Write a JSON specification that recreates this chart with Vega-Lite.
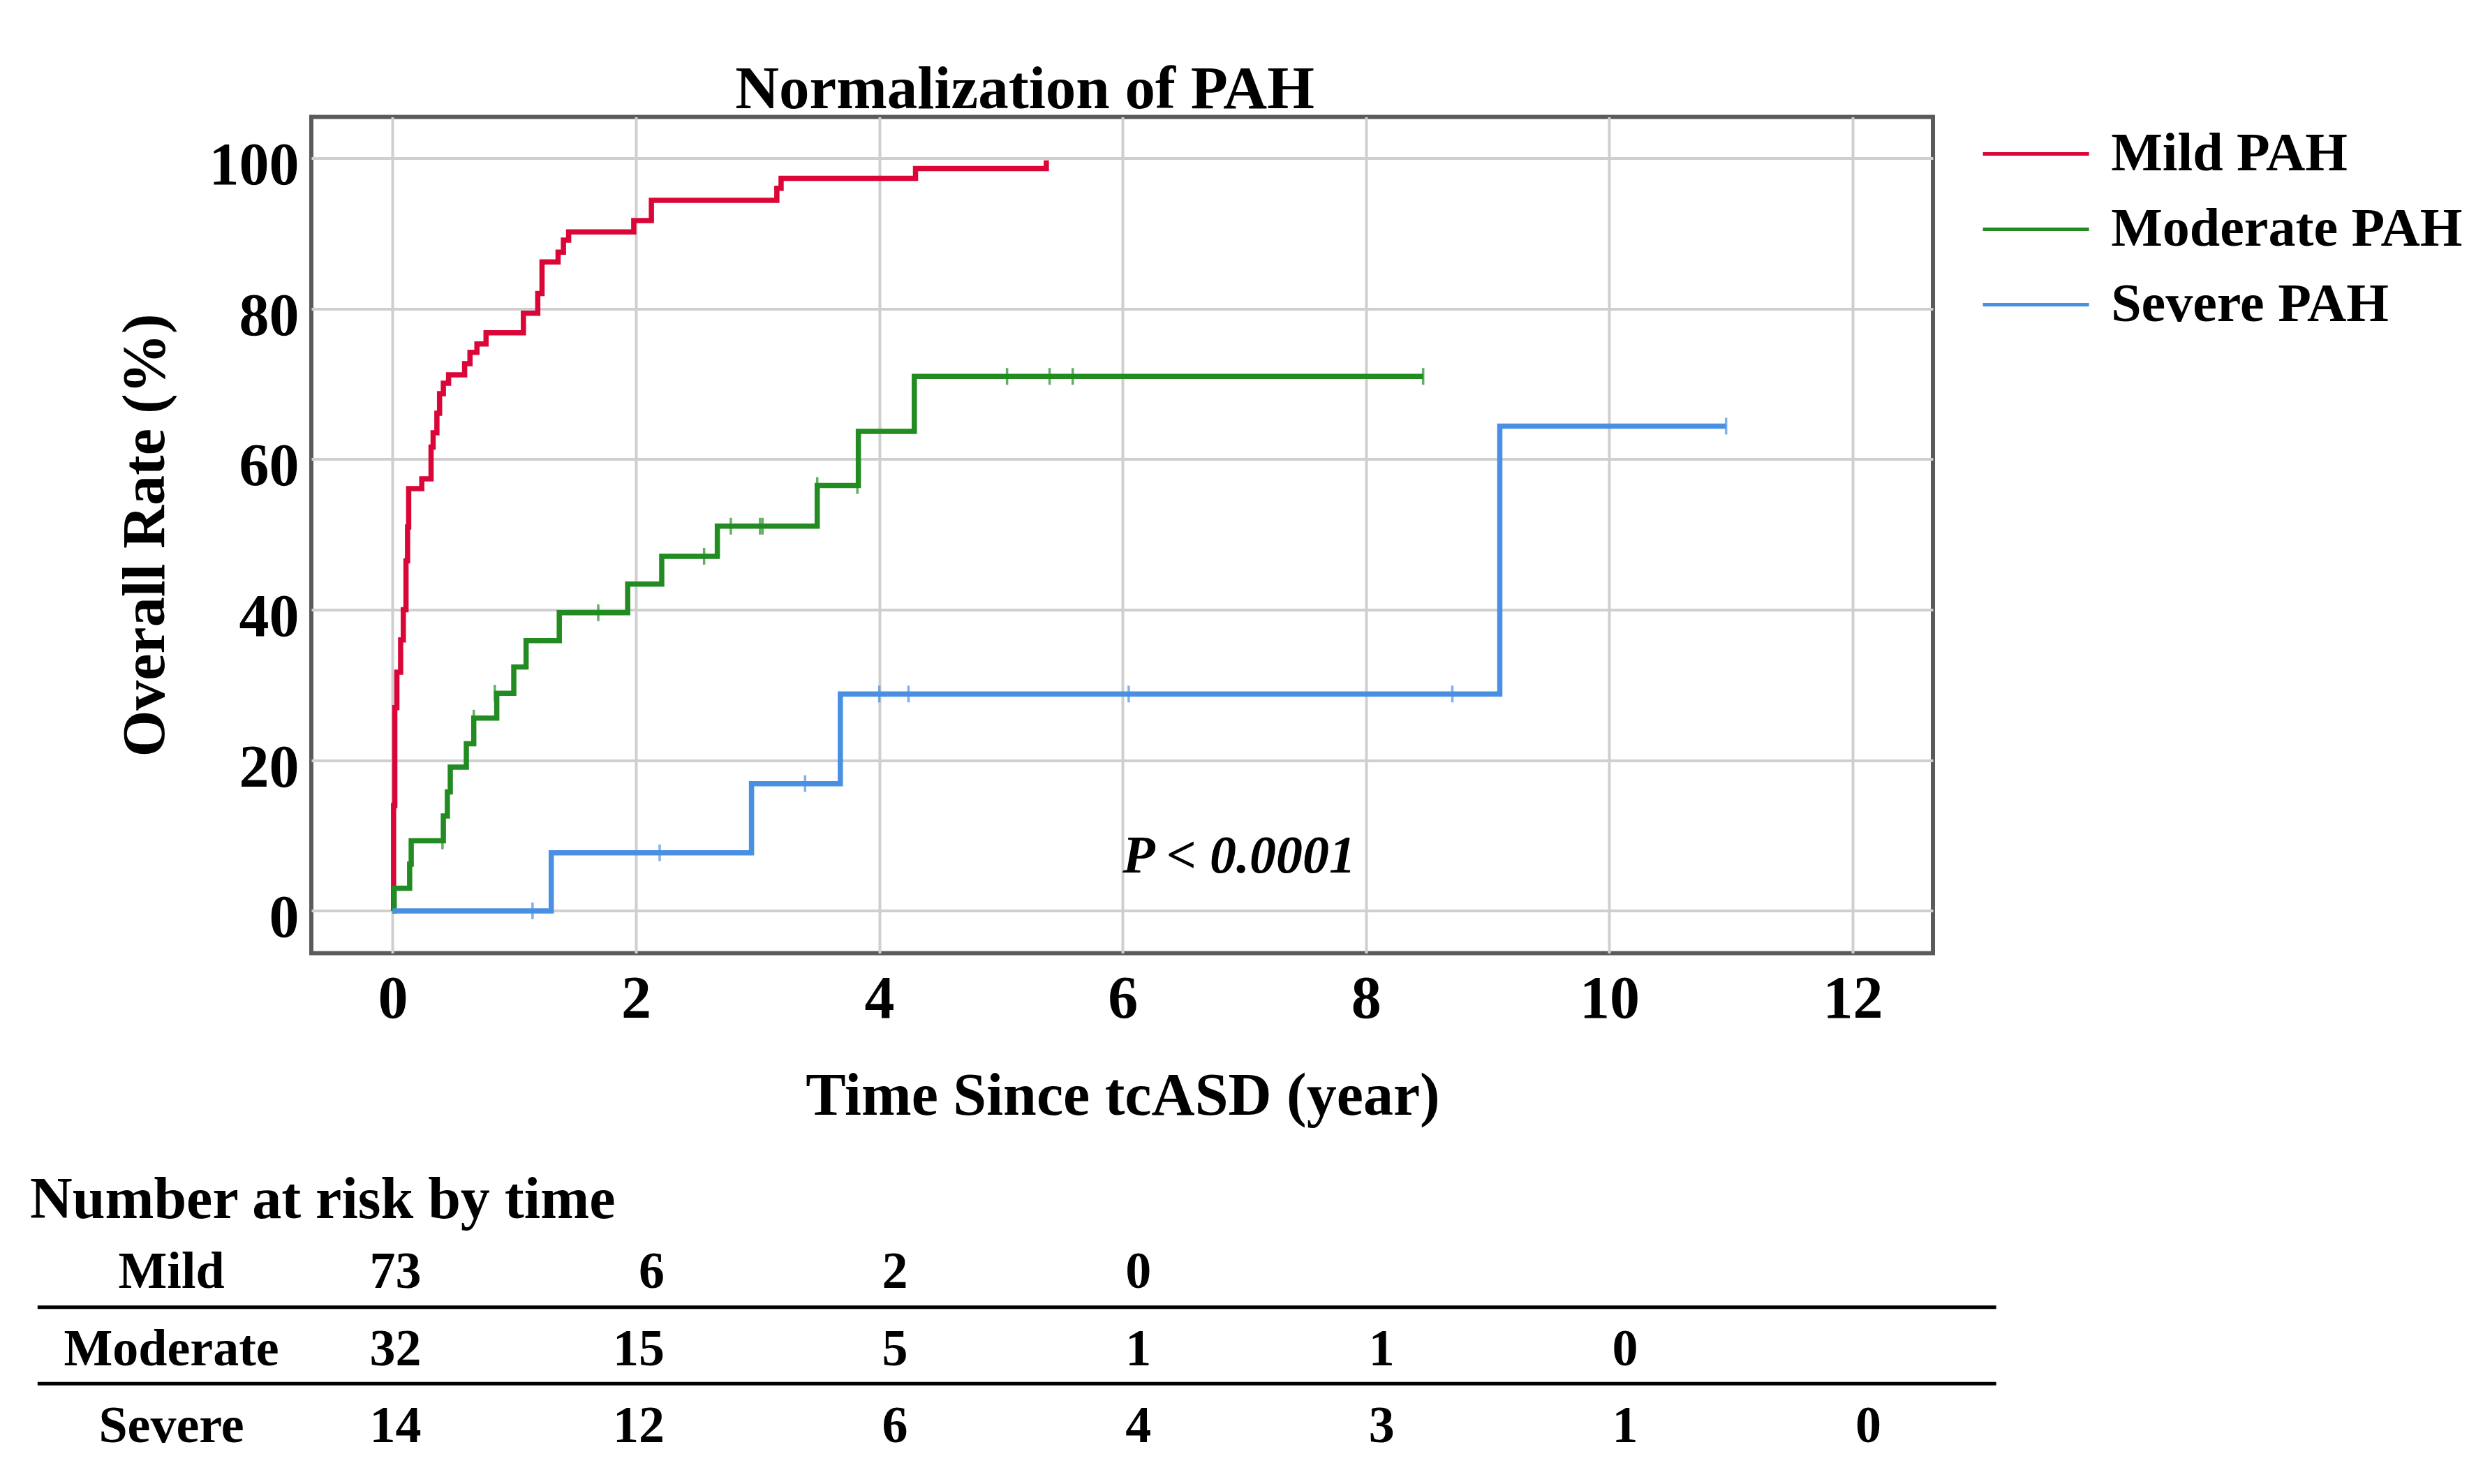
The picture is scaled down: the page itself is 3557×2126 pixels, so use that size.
{
  "$schema": "https://vega.github.io/schema/vega-lite/v6.json",
  "width": 2323,
  "height": 1198,
  "autosize": {"type": "none"},
  "padding": {"left": 446, "top": 167.5, "right": 788, "bottom": 760.5},
  "background": "white",
  "config": {
    "view": {"stroke": "#5A5A5A", "strokeWidth": 6},
    "font": "Liberation Serif"
  },
  "datasets": {
    "curves": [
      {"group": "Mild PAH", "t": 0, "rate": 0},
      {"group": "Mild PAH", "t": 0.008, "rate": 14},
      {"group": "Mild PAH", "t": 0.018, "rate": 27},
      {"group": "Mild PAH", "t": 0.035, "rate": 31.7},
      {"group": "Mild PAH", "t": 0.066, "rate": 36},
      {"group": "Mild PAH", "t": 0.088, "rate": 40},
      {"group": "Mild PAH", "t": 0.11, "rate": 46.5},
      {"group": "Mild PAH", "t": 0.123, "rate": 51},
      {"group": "Mild PAH", "t": 0.132, "rate": 56.1},
      {"group": "Mild PAH", "t": 0.24, "rate": 57.4},
      {"group": "Mild PAH", "t": 0.316, "rate": 61.6},
      {"group": "Mild PAH", "t": 0.333, "rate": 63.5},
      {"group": "Mild PAH", "t": 0.364, "rate": 66.1},
      {"group": "Mild PAH", "t": 0.386, "rate": 68.7},
      {"group": "Mild PAH", "t": 0.417, "rate": 70.1},
      {"group": "Mild PAH", "t": 0.46, "rate": 71.2},
      {"group": "Mild PAH", "t": 0.592, "rate": 72.7},
      {"group": "Mild PAH", "t": 0.636, "rate": 74.2},
      {"group": "Mild PAH", "t": 0.693, "rate": 75.3},
      {"group": "Mild PAH", "t": 0.768, "rate": 76.8},
      {"group": "Mild PAH", "t": 1.075, "rate": 79.4},
      {"group": "Mild PAH", "t": 1.193, "rate": 82.0},
      {"group": "Mild PAH", "t": 1.228, "rate": 86.2},
      {"group": "Mild PAH", "t": 1.36, "rate": 87.5},
      {"group": "Mild PAH", "t": 1.404, "rate": 89.1},
      {"group": "Mild PAH", "t": 1.447, "rate": 90.2},
      {"group": "Mild PAH", "t": 1.982, "rate": 91.7},
      {"group": "Mild PAH", "t": 2.127, "rate": 94.4},
      {"group": "Mild PAH", "t": 3.158, "rate": 96.0},
      {"group": "Mild PAH", "t": 3.193, "rate": 97.3},
      {"group": "Mild PAH", "t": 4.298, "rate": 98.6},
      {"group": "Mild PAH", "t": 5.373, "rate": 99.7},
      {"group": "Moderate PAH", "t": 0, "rate": 0},
      {"group": "Moderate PAH", "t": 0.013, "rate": 3.0},
      {"group": "Moderate PAH", "t": 0.14, "rate": 6.2},
      {"group": "Moderate PAH", "t": 0.153, "rate": 9.3},
      {"group": "Moderate PAH", "t": 0.417, "rate": 12.6},
      {"group": "Moderate PAH", "t": 0.45, "rate": 15.8},
      {"group": "Moderate PAH", "t": 0.474, "rate": 19.1},
      {"group": "Moderate PAH", "t": 0.606, "rate": 22.2},
      {"group": "Moderate PAH", "t": 0.667, "rate": 25.6},
      {"group": "Moderate PAH", "t": 0.856, "rate": 28.9},
      {"group": "Moderate PAH", "t": 0.996, "rate": 32.4},
      {"group": "Moderate PAH", "t": 1.097, "rate": 35.9},
      {"group": "Moderate PAH", "t": 1.37, "rate": 39.6},
      {"group": "Moderate PAH", "t": 1.932, "rate": 43.4},
      {"group": "Moderate PAH", "t": 2.212, "rate": 47.1},
      {"group": "Moderate PAH", "t": 2.669, "rate": 51.1},
      {"group": "Moderate PAH", "t": 3.49, "rate": 56.5},
      {"group": "Moderate PAH", "t": 3.828, "rate": 63.7},
      {"group": "Moderate PAH", "t": 4.288, "rate": 71.0},
      {"group": "Moderate PAH", "t": 8.47, "rate": 71.0},
      {"group": "Severe PAH", "t": 0, "rate": 0},
      {"group": "Severe PAH", "t": 1.304, "rate": 7.7},
      {"group": "Severe PAH", "t": 2.95, "rate": 16.9},
      {"group": "Severe PAH", "t": 3.68, "rate": 28.8},
      {"group": "Severe PAH", "t": 9.1, "rate": 64.4},
      {"group": "Severe PAH", "t": 10.96, "rate": 64.4}
    ],
    "censored": [
      {"group": "Moderate PAH", "t": 0.41, "rate": 9.3},
      {"group": "Moderate PAH", "t": 0.667, "rate": 25.6},
      {"group": "Moderate PAH", "t": 0.84, "rate": 28.9},
      {"group": "Moderate PAH", "t": 1.69, "rate": 39.6},
      {"group": "Moderate PAH", "t": 2.56, "rate": 47.1},
      {"group": "Moderate PAH", "t": 2.78, "rate": 51.1},
      {"group": "Moderate PAH", "t": 3.02, "rate": 51.1},
      {"group": "Moderate PAH", "t": 3.04, "rate": 51.1},
      {"group": "Moderate PAH", "t": 3.49, "rate": 56.5},
      {"group": "Moderate PAH", "t": 3.82, "rate": 56.5},
      {"group": "Moderate PAH", "t": 5.05, "rate": 71.0},
      {"group": "Moderate PAH", "t": 5.4, "rate": 71.0},
      {"group": "Moderate PAH", "t": 5.59, "rate": 71.0},
      {"group": "Moderate PAH", "t": 8.47, "rate": 71.0},
      {"group": "Severe PAH", "t": 1.15, "rate": 0},
      {"group": "Severe PAH", "t": 2.195, "rate": 7.7},
      {"group": "Severe PAH", "t": 3.39, "rate": 16.9},
      {"group": "Severe PAH", "t": 4.0, "rate": 28.8},
      {"group": "Severe PAH", "t": 4.24, "rate": 28.8},
      {"group": "Severe PAH", "t": 6.05, "rate": 28.8},
      {"group": "Severe PAH", "t": 8.71, "rate": 28.8},
      {"group": "Severe PAH", "t": 10.96, "rate": 64.4}
    ],
    "risk": [
      {"group": "Mild", "time": 0, "n": 73},
      {"group": "Mild", "time": 2, "n": 6},
      {"group": "Mild", "time": 4, "n": 2},
      {"group": "Mild", "time": 6, "n": 0},
      {"group": "Moderate", "time": 0, "n": 32},
      {"group": "Moderate", "time": 2, "n": 15},
      {"group": "Moderate", "time": 4, "n": 5},
      {"group": "Moderate", "time": 6, "n": 1},
      {"group": "Moderate", "time": 8, "n": 1},
      {"group": "Moderate", "time": 10, "n": 0},
      {"group": "Severe", "time": 0, "n": 14},
      {"group": "Severe", "time": 2, "n": 12},
      {"group": "Severe", "time": 4, "n": 6},
      {"group": "Severe", "time": 6, "n": 4},
      {"group": "Severe", "time": 8, "n": 3},
      {"group": "Severe", "time": 10, "n": 1},
      {"group": "Severe", "time": 12, "n": 0}
    ]
  },
  "layer": [
    {
      "data": {"name": "curves"},
      "mark": {"type": "line", "interpolate": "step-after", "strokeWidth": 7.5},
      "encoding": {
        "x": {
          "field": "t",
          "type": "quantitative",
          "scale": {"domain": [-0.668, 12.66], "nice": false, "zero": false},
          "axis": {
            "values": [0, 2, 4, 6, 8, 10, 12],
            "format": "d",
            "grid": true,
            "gridColor": "#CFCFCF",
            "gridWidth": 4,
            "domain": false,
            "ticks": false,
            "tickSize": 0,
            "labelFont": "Liberation Serif",
            "labelFontSize": 86,
            "labelFontWeight": "bold",
            "labelColor": "black",
            "labelPadding": 24,
            "labelFlush": false,
            "labelOverlap": false,
            "title": "Time Since tcASD (year)",
            "titleFont": "Liberation Serif",
            "titleFontSize": 86,
            "titleFontWeight": "bold",
            "titleColor": "black",
            "titleX": 1162,
            "titleY": 231,
            "titleAlign": "center",
            "titleBaseline": "alphabetic"
          }
        },
        "y": {
          "field": "rate",
          "type": "quantitative",
          "scale": {"domain": [-5.62, 105.47], "nice": false, "zero": false},
          "axis": {
            "values": [0, 20, 40, 60, 80, 100],
            "format": "d",
            "grid": true,
            "gridColor": "#CFCFCF",
            "gridWidth": 4,
            "domain": false,
            "ticks": false,
            "tickSize": 0,
            "labelFont": "Liberation Serif",
            "labelFontSize": 86,
            "labelFontWeight": "bold",
            "labelColor": "black",
            "labelPadding": 18,
            "labelOffset": 11,
            "labelFlush": false,
            "labelOverlap": false,
            "title": "Overall Rate (%)",
            "titleFont": "Liberation Serif",
            "titleFontSize": 86,
            "titleFontWeight": "bold",
            "titleColor": "black",
            "titleAngle": 270,
            "titleX": -212,
            "titleY": 599,
            "titleAlign": "center",
            "titleBaseline": "alphabetic"
          }
        },
        "color": {
          "field": "group",
          "type": "nominal",
          "scale": {
            "domain": ["Mild PAH", "Moderate PAH", "Severe PAH"],
            "range": ["#DA0638", "#228B22", "#4A90E2"]
          },
          "legend": {
            "orient": "none",
            "legendX": 2431.6,
            "legendY": 14,
            "title": null,
            "padding": 0,
            "symbolType": "M-2.5,0L2.5,0",
            "symbolSize": 3697,
            "symbolStrokeWidth": 5,
            "labelFont": "Liberation Serif",
            "labelFontSize": 78,
            "labelFontWeight": "bold",
            "labelColor": "black",
            "labelOffset": 68.6,
            "labelLimit": 0,
            "rowPadding": 30
          }
        }
      }
    },
    {
      "data": {"name": "censored"},
      "mark": {"type": "tick", "orient": "vertical", "size": 24, "thickness": 3.5},
      "encoding": {
        "x": {"field": "t", "type": "quantitative"},
        "y": {"field": "rate", "type": "quantitative"},
        "color": {"field": "group", "type": "nominal", "legend": null}
      }
    },
    {
      "data": {"name": "risk"},
      "transform": [{"filter": "datum.group === 'Mild' && datum.time === 0"}],
      "layer": [
        {
          "mark": {"type": "text", "font": "Liberation Serif", "fontSize": 87, "fontWeight": "bold", "align": "center", "baseline": "alphabetic", "color": "black"},
          "encoding": {
            "x": {"datum": 5.196},
            "y": {"datum": 106.63},
            "text": {"value": "Normalization of PAH"}
          }
        },
        {
          "mark": {"type": "text", "font": "Liberation Serif", "fontSize": 76, "fontWeight": "bold", "fontStyle": "italic", "align": "left", "baseline": "alphabetic", "color": "black"},
          "encoding": {
            "x": {"datum": 6.0},
            "y": {"datum": 5.11},
            "text": {"value": "P < 0.0001"}
          }
        },
        {
          "mark": {"type": "text", "font": "Liberation Serif", "fontSize": 84, "fontWeight": "bold", "align": "left", "baseline": "alphabetic", "color": "black"},
          "encoding": {
            "x": {"datum": -2.98},
            "y": {"datum": -40.78},
            "text": {"value": "Number at risk by time"}
          }
        },
        {
          "mark": {"type": "rule", "color": "black", "strokeWidth": 5},
          "encoding": {
            "x": {"datum": -2.918},
            "x2": {"datum": 13.18},
            "y": {"datum": -52.65}
          }
        },
        {
          "mark": {"type": "rule", "color": "black", "strokeWidth": 5},
          "encoding": {
            "x": {"datum": -2.918},
            "x2": {"datum": 13.18},
            "y": {"datum": -62.8}
          }
        }
      ]
    },
    {
      "data": {"name": "risk"},
      "transform": [{"filter": "datum.group === 'Mild'"}],
      "encoding": {"y": {"datum": -50.06}},
      "layer": [
        {
          "mark": {"type": "text", "font": "Liberation Serif", "fontSize": 74, "fontWeight": "bold", "align": "right", "baseline": "alphabetic", "dx": 41, "color": "black"},
          "encoding": {"x": {"field": "time", "type": "quantitative"}, "text": {"field": "n"}}
        },
        {
          "transform": [{"filter": "datum.time === 0"}],
          "mark": {"type": "text", "font": "Liberation Serif", "fontSize": 74, "fontWeight": "bold", "align": "center", "baseline": "alphabetic", "color": "black"},
          "encoding": {"x": {"datum": -1.818}, "text": {"field": "group"}}
        }
      ]
    },
    {
      "data": {"name": "risk"},
      "transform": [{"filter": "datum.group === 'Moderate'"}],
      "encoding": {"y": {"datum": -60.41}},
      "layer": [
        {
          "mark": {"type": "text", "font": "Liberation Serif", "fontSize": 74, "fontWeight": "bold", "align": "right", "baseline": "alphabetic", "dx": 41, "color": "black"},
          "encoding": {"x": {"field": "time", "type": "quantitative"}, "text": {"field": "n"}}
        },
        {
          "transform": [{"filter": "datum.time === 0"}],
          "mark": {"type": "text", "font": "Liberation Serif", "fontSize": 74, "fontWeight": "bold", "align": "center", "baseline": "alphabetic", "color": "black"},
          "encoding": {"x": {"datum": -1.818}, "text": {"field": "group"}}
        }
      ]
    },
    {
      "data": {"name": "risk"},
      "transform": [{"filter": "datum.group === 'Severe'"}],
      "encoding": {"y": {"datum": -70.61}},
      "layer": [
        {
          "mark": {"type": "text", "font": "Liberation Serif", "fontSize": 74, "fontWeight": "bold", "align": "right", "baseline": "alphabetic", "dx": 41, "color": "black"},
          "encoding": {"x": {"field": "time", "type": "quantitative"}, "text": {"field": "n"}}
        },
        {
          "transform": [{"filter": "datum.time === 0"}],
          "mark": {"type": "text", "font": "Liberation Serif", "fontSize": 74, "fontWeight": "bold", "align": "center", "baseline": "alphabetic", "color": "black"},
          "encoding": {"x": {"datum": -1.818}, "text": {"field": "group"}}
        }
      ]
    }
  ]
}
